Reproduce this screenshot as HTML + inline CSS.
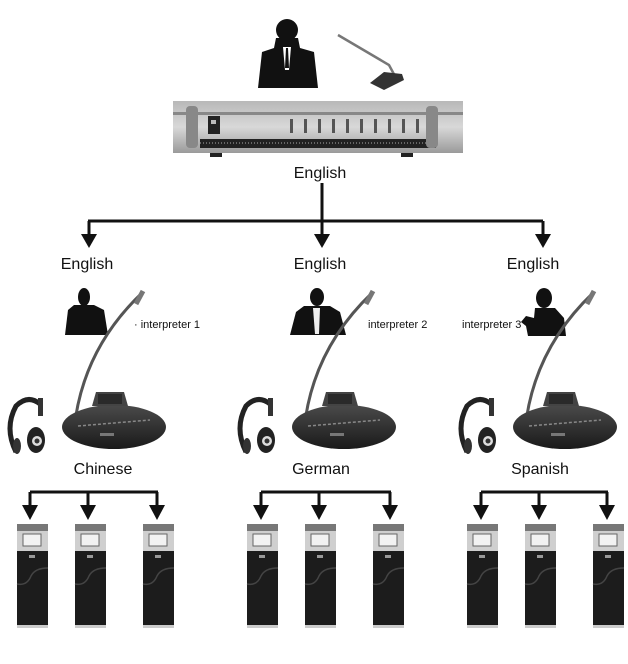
<!DOCTYPE html>
<html><head><meta charset="utf-8"><style>
html,body{margin:0;padding:0;background:#fff;}
svg{display:block;}
text{font-family:"Liberation Sans",sans-serif;fill:#111;}
</style></head><body>
<svg width="628" height="664" viewBox="0 0 628 664" xmlns="http://www.w3.org/2000/svg">
<defs>
<linearGradient id="rack" x1="0" y1="0" x2="0" y2="1"><stop offset="0" stop-color="#b8b8b8"/><stop offset="0.5" stop-color="#d8d8d8"/><stop offset="1" stop-color="#9a9a9a"/></linearGradient>
<linearGradient id="base" x1="0" y1="0" x2="0" y2="1"><stop offset="0" stop-color="#4a4a4a"/><stop offset="1" stop-color="#1a1a1a"/></linearGradient>
<g id="rx">
 <rect x="0" y="0" width="31" height="7" fill="#777"/>
 <rect x="0" y="7" width="31" height="20" fill="#cfcfcf"/>
 <rect x="6" y="10" width="18" height="12" fill="#f2f2f2" stroke="#666" stroke-width="1"/>
 <rect x="0" y="27" width="31" height="74" fill="#1c1c1c"/>
 <path d="M0 60 Q10 62 14 52 Q18 44 31 44" stroke="#444" stroke-width="1.5" fill="none"/>
 <rect x="12" y="31" width="6" height="3" fill="#999"/>
 <rect x="0" y="101" width="31" height="3" fill="#ccc"/>
</g>
<g id="station">
 <path d="M16 452 Q4 428 16 406 Q28 394 40 404" stroke="#222" stroke-width="5" fill="none"/>
 <ellipse cx="36" cy="440" rx="9" ry="13" fill="#222"/>
 <circle cx="37" cy="441" r="5" fill="#ddd"/>
 <circle cx="37" cy="441" r="2.5" fill="#333"/>
 <rect x="38" y="398" width="5" height="18" fill="#333"/>
 <ellipse cx="17" cy="446" rx="4" ry="8" fill="#333"/>
 <path d="M74 430 Q82 350 142 293" stroke="#555" stroke-width="3" fill="none"/>
 <path d="M136 304 L143 291" stroke="#777" stroke-width="5"/>
 <ellipse cx="114" cy="427" rx="52" ry="22" fill="url(#base)"/>
 <path d="M92 406 L96 392 L124 392 L128 406Z" fill="#444"/>
 <rect x="98" y="394" width="24" height="10" fill="#2a2a2a"/>
 <path d="M78 426 L150 420" stroke="#888" stroke-width="1.5" stroke-dasharray="3 2"/>
 <rect x="100" y="433" width="14" height="3" fill="#777"/>
</g>
</defs>

<circle cx="287" cy="30" r="11" fill="#111"/>
<path d="M276 38 L298 38 L300 48 L314 52 L318 88 L258 88 L262 52 L274 48Z" fill="#111"/>
<path d="M283 47 L291 47 L289 70 L285 70Z" fill="#fff"/>
<path d="M286 48 L288 48 L289 68 L285 68Z" fill="#111"/>
<path d="M338 35 L389 65 L396 78" stroke="#777" stroke-width="2.5" fill="none"/>
<path d="M370 83 L384 72 L402 74 L404 80 L384 90Z" fill="#333"/>
<rect x="173" y="101" width="290" height="52" fill="url(#rack)"/>
<rect x="173" y="112" width="290" height="3" fill="#888"/>
<rect x="200" y="139" width="236" height="9" fill="#222"/>
<path d="M200 143 H436" stroke="#aaa" stroke-width="1" stroke-dasharray="1 2"/>
<rect x="186" y="106" width="12" height="42" rx="4" fill="#888"/>
<rect x="426" y="106" width="12" height="42" rx="4" fill="#888"/>
<rect x="208" y="116" width="12" height="18" fill="#222"/>
<rect x="211" y="120" width="5" height="4" fill="#bbb"/>
<g fill="#555">
<rect x="290" y="119" width="3" height="14"/><rect x="304" y="119" width="3" height="14"/><rect x="318" y="119" width="3" height="14"/><rect x="332" y="119" width="3" height="14"/><rect x="346" y="119" width="3" height="14"/><rect x="360" y="119" width="3" height="14"/><rect x="374" y="119" width="3" height="14"/><rect x="388" y="119" width="3" height="14"/><rect x="402" y="119" width="3" height="14"/><rect x="416" y="119" width="3" height="14"/>
</g>
<rect x="210" y="153" width="12" height="4" fill="#222"/>
<rect x="401" y="153" width="12" height="4" fill="#222"/>
<text x="320" y="178" font-size="16" text-anchor="middle">English</text>

<g stroke="#111" stroke-width="3" fill="none">
<path d="M322 183 V236"/>
<path d="M88 221 H543"/>
<path d="M89 221 V236"/><path d="M543 221 V236"/>
</g>
<g fill="#111">
<path d="M81 234 H97 L89 248Z"/><path d="M314 234 H330 L322 248Z"/><path d="M535 234 H551 L543 248Z"/>
</g>
<text x="87" y="269" font-size="16" text-anchor="middle">English</text>
<text x="320" y="269" font-size="16" text-anchor="middle">English</text>
<text x="533" y="269" font-size="16" text-anchor="middle">English</text>

<ellipse cx="84" cy="297" rx="6" ry="9" fill="#111"/>
<path d="M74 305 L94 305 L104 310 L108 335 L65 335 L68 310Z" fill="#111"/>
<ellipse cx="317" cy="297" rx="7" ry="9" fill="#111"/>
<path d="M304 306 L330 306 L340 312 L346 335 L290 335 L296 312Z" fill="#111"/>
<path d="M313 308 L320 308 L319 334 L315 334Z" fill="#eee"/>
<ellipse cx="544" cy="298" rx="8" ry="10" fill="#111"/>
<path d="M535 308 L555 308 L564 318 L566 336 L528 336 L526 326 L521 322 L526 316 L534 318Z" fill="#111"/>

<text x="134" y="328" font-size="11">· interpreter 1</text>
<text x="368" y="328" font-size="11">interpreter 2</text>
<text x="462" y="328" font-size="11">interpreter 3</text>

<use href="#station"/>
<use href="#station" transform="translate(230,0)"/>
<use href="#station" transform="translate(451,0)"/>

<text x="103" y="474" font-size="16" text-anchor="middle">Chinese</text>
<text x="321" y="474" font-size="16" text-anchor="middle">German</text>
<text x="540" y="474" font-size="16" text-anchor="middle">Spanish</text>

<g stroke="#111" stroke-width="3" fill="none">
<path d="M30 492 H158 M30 492 V508 M88 492 V508 M157 492 V508"/>
<path d="M261 492 H391 M261 492 V508 M319 492 V508 M390 492 V508"/>
<path d="M481 492 H608 M481 492 V508 M539 492 V508 M607 492 V508"/>
</g>
<g fill="#111">
<path d="M22 505 H38 L30 520Z"/><path d="M80 505 H96 L88 520Z"/><path d="M149 505 H165 L157 520Z"/>
<path d="M253 505 H269 L261 520Z"/><path d="M311 505 H327 L319 520Z"/><path d="M382 505 H398 L390 520Z"/>
<path d="M473 505 H489 L481 520Z"/><path d="M531 505 H547 L539 520Z"/><path d="M599 505 H615 L607 520Z"/>
</g>

<use href="#rx" transform="translate(17,524)"/>
<use href="#rx" transform="translate(75,524)"/>
<use href="#rx" transform="translate(143,524)"/>
<use href="#rx" transform="translate(247,524)"/>
<use href="#rx" transform="translate(305,524)"/>
<use href="#rx" transform="translate(373,524)"/>
<use href="#rx" transform="translate(467,524)"/>
<use href="#rx" transform="translate(525,524)"/>
<use href="#rx" transform="translate(593,524)"/>
</svg>
</body></html>
